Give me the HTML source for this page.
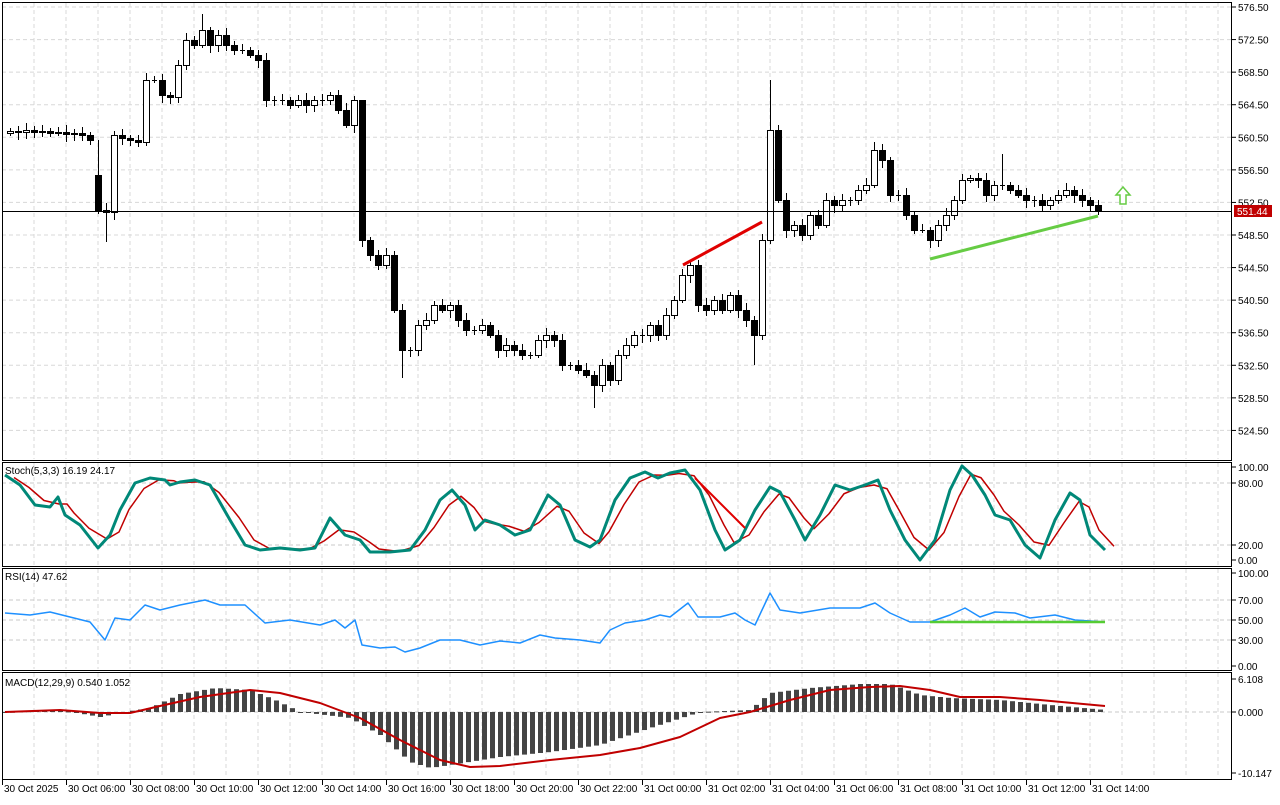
<!DOCTYPE html>
<html><head><meta charset="utf-8"><style>
body{margin:0;background:#fff;width:1280px;height:800px;overflow:hidden}
svg text{font-family:"Liberation Sans",sans-serif;font-size:10px;fill:#000}
</style></head><body>
<svg id="s" width="1280" height="800" xmlns="http://www.w3.org/2000/svg"></svg>
<script>
const S=document.getElementById('s');let h='';
const L=2,R=1232;
function line(x1,y1,x2,y2,c,w,d){h+=`<line x1="${x1}" y1="${y1}" x2="${x2}" y2="${y2}" stroke="${c}" stroke-width="${w||1}"${d?` stroke-dasharray="${d}"`:''}/>`;}
function txt(x,y,t,a){h+=`<text x="${x}" y="${y}"${a?` text-anchor="${a}"`:''}>${t}</text>`;}
const panels=[[2,460],[462,566],[568,670],[672,779]];
for(let x=34;x<R;x+=32)for(const p of panels)line(x,p[0]+1,x,p[1]-1,'#d8d8d8',1,'4,3');
for(let p=576.5;p>=524;p-=4){let y=7+(576.5-p)*8.143;line(L,y,R,y,'#d8d8d8',1,'4,3');line(R,y,R+4,y,'#000');txt(R+6,y+4,p.toFixed(2));}
[[467,'100.00'],[483,'80.00'],[545,'20.00'],[560,'0.00']].forEach(a=>{if(a[1]!='100.00'&&a[1]!='0.00')line(L,a[0],R,a[0],'#c8c8c8',1,'4,3');line(R,a[0],R+4,a[0],'#000');txt(R+6,a[0]+4,a[1]);});
[[573,'100.00'],[600,'70.00'],[620,'50.00'],[640,'30.00'],[666,'0.00']].forEach(a=>{if(a[1]!='100.00'&&a[1]!='0.00')line(L,a[0],R,a[0],'#c8c8c8',1,'4,3');line(R,a[0],R+4,a[0],'#000');txt(R+6,a[0]+4,a[1]);});
[[679,'6.108'],[712,'0.000'],[773,'-10.147']].forEach(a=>{line(R,a[0],R+4,a[0],'#000');txt(R+6,a[0]+4,a[1]);});
line(L,712,R,712,'#c8c8c8',1,'4,3');
const C=[131,132,130,132,131,133,132,134,133,135,140,
210,212,135,138,140,142,80,80,95,97,65,40,45,30,45,35,45,50,50,55,60,100,100,100,105,100,105,100,100,95,110,125,100,240,255,265,255,310,350,350,325,320,305,310,305,320,330,330,325,335,350,345,350,355,355,340,335,340,365,365,370,375,385,365,380,355,345,335,335,325,335,315,300,275,265,305,310,300,310,295,310,320,335,240,130,200,230,225,235,215,225,200,205,200,200,190,185,150,160,195,195,215,230,230,240,225,215,200,180,178,180,195,185,185,190,195,200,200,205,200,195,190,195,200,205,210];
const n=C.length, x0=1098-8*(n-1);
let prev=C[0]+2;
C.forEach((c,i)=>{let x=x0+8*i,o=prev;if(i==11)o=175;let top=Math.min(o,c),bot=Math.max(o,c);let hi=top-3-((i*7)%5),lo=bot+3+((i*5)%6);
const near=v=>Math.abs(x-v)<5;
if(near(106))lo=242;if(near(770))hi=80;if(near(362))hi=100;if(near(754))lo=365;if(near(402))lo=378;if(near(594))lo=408;if(near(874))hi=142;if(near(1002))hi=154;if(near(98))hi=140;if(near(202))hi=14;
line(x+.5,hi,x+.5,lo,'#000');
if(bot-top<1)line(x-2,c+.5,x+3,c+.5,'#000');else h+=`<rect x="${x-2.5}" y="${top+.5}" width="6" height="${bot-top}" fill="${c<o?'#fff':'#000'}" stroke="#000"/>`;
prev=c;});
line(L,211.5,R,211.5,'#000',1);
h+=`<rect x="${R+2}" y="205" width="38" height="12" fill="#c00000"/><text x="${R+5}" y="215" style="fill:#fff">551.44</text>`;
line(683,265,762,222,'#e00000',3);line(930,259,1098,216,'#66cc44',3);
h+=`<path d="M1123 187 L1130 195 L1126 195 L1126 204 L1120 204 L1120 195 L1116 195 Z" fill="#fff" stroke="#66cc44" stroke-width="1.5"/>`;
function pl(pts,c,w,dx){h+=`<polyline points="${pts.map(p=>(p[0]+(dx||0))+','+p[1]).join(' ')}" fill="none" stroke="${c}" stroke-width="${w}" stroke-linejoin="round"/>`;}
function pr(a){let r=[];for(let i=0;i<a.length;i+=2)r.push([a[i],a[i+1]]);return r;}
const G=pr([5,475,20,485,35,505,50,507,58,497,65,515,80,525,98,548,110,535,120,510,135,483,150,478,165,480,170,485,180,482,195,480,210,485,230,520,245,545,260,550,280,548,300,550,315,548,330,518,345,535,360,540,370,552,390,552,410,550,425,530,440,500,452,490,465,505,475,530,485,520,500,525,515,535,530,530,548,495,560,505,575,540,590,547,600,540,615,500,630,478,645,472,658,478,670,473,685,470,700,490,715,530,725,550,740,540,755,510,770,487,780,492,795,520,805,540,820,515,835,485,850,490,865,485,878,480,890,510,905,540,920,560,935,540,950,490,962,466,972,475,985,495,995,515,1010,520,1025,545,1040,558,1055,520,1070,493,1080,500,1090,535,1105,550]);
const Rd=G.map((p,i)=>{let a=G[Math.max(0,i-1)],b=G[Math.min(G.length-1,i+1)];return [p[0],(a[1]+2*p[1]+b[1])/4];});
pl(Rd,'#c00000',1.5,9);pl(G,'#008878',3);
line(695,478,745,528,'#e00000',2);
txt(5,474,'Stoch(5,3,3) 16.19 24.17');
pl(pr([5,613,30,615,50,612,70,617,90,622,105,640,115,618,130,620,145,605,160,610,180,605,205,600,220,605,245,605,265,623,290,620,320,625,335,620,345,628,355,620,362,645,380,648,395,647,405,652,420,648,440,640,460,640,480,645,500,641,520,643,540,635,555,638,580,640,600,643,610,630,625,623,645,620,660,615,670,617,688,603,698,617,720,617,735,613,745,620,755,625,762,610,770,593,780,610,800,613,830,608,860,608,875,603,890,613,910,622,930,622,950,615,965,608,980,617,995,612,1015,613,1030,618,1055,615,1075,620,1105,622]),'#1e90ff',1.5);
line(930,622,1105,622,'#55cc33',2.5);
txt(5,580,'RSI(14) 47.62');
const K=[[5,712],[60,710],[100,717],[130,711],[150,708],[180,694],[215,688],[250,690],[275,700],[300,712],[350,718],[380,735],[410,762],[430,768],[450,765],[500,757],[550,752],[600,745],[650,728],[700,712],[750,710],[770,693],[810,688],[860,684],[890,684],[920,695],[950,698],[1000,700],[1050,705],[1105,710]];
function it(x){for(let i=0;i<K.length-1;i++)if(x<=K[i+1][0]){let t=(x-K[i][0])/(K[i+1][0]-K[i][0]);return K[i][1]+t*(K[i+1][1]-K[i][1]);}return 710;}
for(let x=x0%8+2;x<=1105;x+=8){let y=it(x);h+=`<rect x="${x-2}" y="${Math.min(y,712)}" width="5" height="${Math.max(1,Math.abs(y-712))}" fill="#444"/>`;}
pl(pr([5,712,60,710,100,713,130,713,160,706,200,697,250,690,280,693,320,703,360,718,400,740,440,760,470,767,500,766,550,760,600,755,640,748,680,737,720,718,750,712,790,700,830,690,870,687,900,686,930,690,960,697,1000,697,1040,700,1105,706]),'#c00000',2);
txt(5,686,'MACD(12,29,9) 0.540 1.052');
for(const p of panels)h+=`<rect x="${L+.5}" y="${p[0]+.5}" width="${R-L-1}" height="${p[1]-p[0]}" fill="none" stroke="#000"/>`;
const lab=['30 Oct 2025'];['06','08','10','12','14','16','18','20','22'].forEach(t=>lab.push('30 Oct '+t+':00'));['00','02','04','06','08','10','12','14'].forEach(t=>lab.push('31 Oct '+t+':00'));
lab.forEach((t,i)=>{let x=2+64*i;line(x+.5,780,x+.5,785,'#000');txt(x+2,792,t);});
S.innerHTML=h;
</script>
</body></html>
